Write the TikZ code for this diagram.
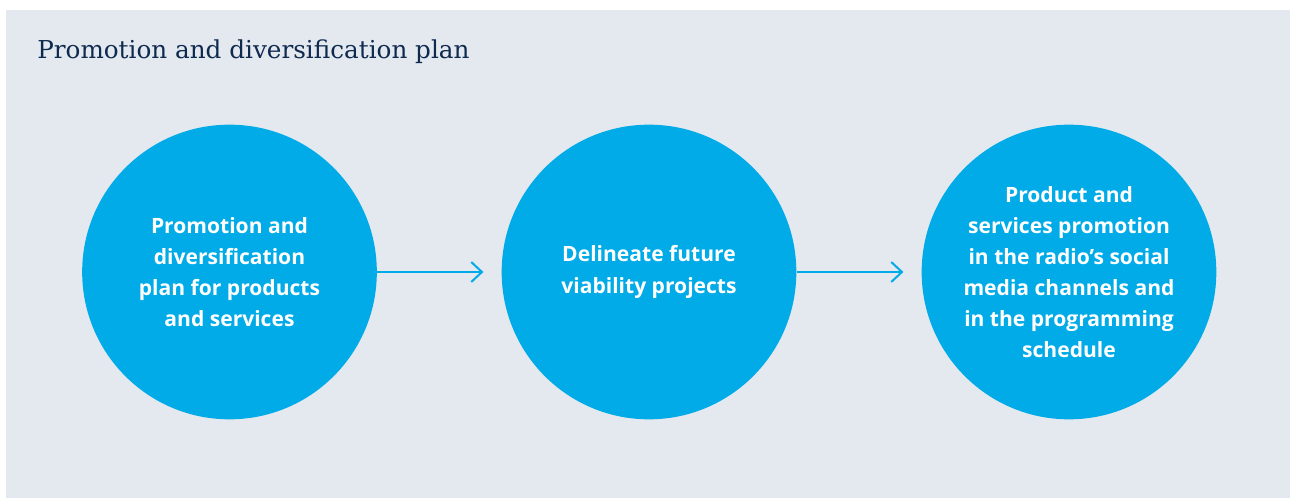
\documentclass[tikz,border=0pt]{standalone}
\usepackage{fontspec}
\setmainfont{DejaVu Serif}
\newfontfamily\bodyfont{Open Sans}
\usetikzlibrary{arrows.meta}
\definecolor{panelgrey}{HTML}{E4E9F0}
\definecolor{circblue}{HTML}{00ABE7}
\definecolor{titlenavy}{HTML}{0F2A4F}

\begin{document}
\begin{tikzpicture}[x=0.75pt,y=-0.75pt,
    punkt/.style={circle, fill=circblue, minimum size=221pt, inner sep=0pt,
      text=white, align=center,
      font=\bodyfont\bfseries\fontsize{15.8}{23.3}\selectfont},
    pfeil/.style={-{Straight Barb[length=8pt,width=15pt]}, circblue, line width=1.5pt}]
\useasboundingbox (0,0) rectangle (1290,499);
\fill[white] (0,0) rectangle (1290,499);
\fill[panelgrey] (6,10) rectangle (1290,498);

\node[anchor=base west, text=titlenavy, font=\fontsize{18.5}{22}\selectfont, inner sep=0pt] (title) at (37,59) {Promotion and diversification plan};

\node[punkt] (plan) at (229.5,272){Promotion and\\ diversification\\ plan for products\\ and services};
\node[punkt] (proj) at (649,272){Delineate future\\ viability projects};
\node[punkt] (promo) at (1069,272){Product and\\ services promotion\\ in the radio’s social\\ media channels and\\ in the programming\\ schedule};

\draw[pfeil, shorten >=13.5pt] (plan)--(proj);
\draw[pfeil, shorten >=13.5pt] (proj)--(promo);
\end{tikzpicture}
\end{document}
